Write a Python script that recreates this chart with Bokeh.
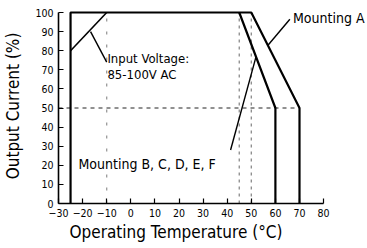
from bokeh.plotting import figure
from bokeh.models import Range1d, FixedTicker, Label, Title
from bokeh.embed import file_html
from bokeh.resources import INLINE

FONT = "DejaVu Sans Condensed"

# Curve data (temperature degC, output current %)
mount_a_temp = [-25, -25, 50, 70, 70]
mount_a_curr = [0, 100, 100, 50, 0]
mount_bf_temp = [45, 60, 60]
mount_bf_curr = [100, 50, 0]
low_voltage_temp = [-25, -10]
low_voltage_curr = [80, 100]

# reference guide lines
half_load_temp = [-30, 70]
half_load_curr = [50, 50]
guide_temps = [45, 50]
low_guide_temp = -10
guide_curr = [0, 100]

# leader lines for annotations
lead_input_t = [-16.7, -10]
lead_input_c = [90, 74]
lead_a_t = [57, 66]
lead_a_c = [83, 96.5]
lead_bf_t = [41.4, 52]
lead_bf_c = [28, 77]

x_ticks = [-30, -20, -10, 0, 10, 20, 30, 40, 50, 60, 70, 80]
y_ticks = [0, 10, 20, 30, 40, 50, 60, 70, 80, 90, 100]

p = figure(width=367, height=248, output_backend="svg", toolbar_location=None,
           x_range=Range1d(-30, 97.8), y_range=Range1d(0, 102.1),
           min_border_left=58, min_border_right=1, min_border_top=8, min_border_bottom=45)
p.outline_line_color = None
p.xgrid.grid_line_color = None
p.ygrid.grid_line_color = None
p.background_fill_color = "white"
p.border_fill_color = "white"

for ax in (p.xaxis[0], p.yaxis[0]):
    ax.axis_line_width = 1.6
    ax.axis_line_color = "black"
    ax.major_tick_in = 5
    ax.major_tick_out = 0
    ax.minor_tick_line_color = None
    ax.major_tick_line_color = "black"
    ax.major_tick_line_width = 1.2
    ax.major_label_text_font = FONT
    ax.major_label_text_font_size = "10.5px"
    ax.major_label_text_color = "black"

p.xaxis.ticker = FixedTicker(ticks=x_ticks)
p.yaxis.ticker = FixedTicker(ticks=y_ticks)
p.xaxis.bounds = (-30, 80)
p.yaxis.bounds = (0, 100)
p.xaxis.major_label_standoff = 5
p.yaxis.major_label_standoff = 5
p.yaxis.axis_label = "Output Current (%)"
p.yaxis.axis_label_text_font = FONT
p.yaxis.axis_label_text_font_size = "17px"
p.yaxis.axis_label_text_font_style = "normal"
p.yaxis.axis_label_text_color = "black"
p.yaxis.axis_label_standoff = 9

p.add_layout(Title(text="Operating Temperature (\u00b0C)", align="left", offset=11,
                   standoff=0, text_font=FONT, text_font_size="17px",
                   text_font_style="normal", text_color="black"), "below")

# guide lines
p.line([low_guide_temp, low_guide_temp], guide_curr, line_color="#999999",
       line_width=1.3, line_dash="3 10")
for t in guide_temps:
    p.line([t, t], guide_curr, line_color="#8a8a8a", line_width=1.3, line_dash="3 4")
p.line(half_load_temp, half_load_curr, line_color="#222222", line_width=1, line_dash="4 4")

# curves
p.line(mount_a_temp, mount_a_curr, line_color="black", line_width=2.2)
p.line(mount_bf_temp, mount_bf_curr, line_color="black", line_width=2.2)
p.line(low_voltage_temp, low_voltage_curr, line_color="black", line_width=1.6)

# leaders
p.line(lead_input_t, lead_input_c, line_color="black", line_width=1.4)
p.line(lead_a_t, lead_a_c, line_color="black", line_width=1.4)
p.line(lead_bf_t, lead_bf_c, line_color="black", line_width=1.4)

def lab(x, y, t, size, align="left", baseline="middle"):
    p.add_layout(Label(x=x, y=y, text=t, text_font=FONT, text_font_size=size,
                       text_align=align, text_baseline=baseline, text_color="black"))

lab(-9.7, 75.9, "Input Voltage:", "13px")
lab(-9.7, 67.5, "85-100V AC", "13px")
lab(-21.7, 20.9, "Mounting B, C, D, E, F", "14px")
lab(67.3, 96.9, "Mounting A", "14px")

open("out.html", "w").write(file_html(p, INLINE))
